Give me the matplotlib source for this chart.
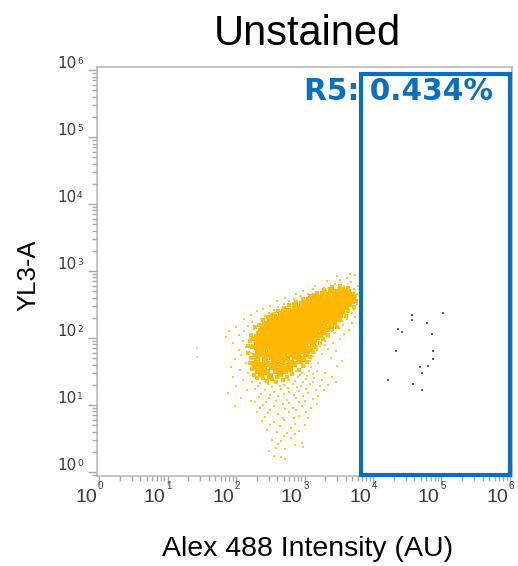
import matplotlib
matplotlib.use("Agg")
import matplotlib.pyplot as plt
from matplotlib.patches import Rectangle
from matplotlib.ticker import LogLocator, NullFormatter

# ---- data (log10 of intensity: Alexa 488 on x, YL3-A on y) ----
# dense population core
core_events = [
    (3.38, 2.71), (3.47, 2.69), (3.55, 2.72), (3.63, 2.68),
    (3.27, 2.66), (3.35, 2.64), (3.44, 2.66), (3.52, 2.63), (3.60, 2.65), (3.69, 2.64),
    (3.16, 2.61), (3.24, 2.59), (3.31, 2.61), (3.38, 2.58), (3.46, 2.60), (3.53, 2.62), (3.61, 2.59), (3.68, 2.61),
    (3.06, 2.56), (3.13, 2.54), (3.20, 2.56), (3.27, 2.55), (3.34, 2.53), (3.41, 2.56), (3.48, 2.54), (3.55, 2.56),
    (3.62, 2.53), (3.69, 2.55),
    (2.96, 2.51), (3.03, 2.49), (3.10, 2.51), (3.16, 2.48), (3.23, 2.50), (3.30, 2.51), (3.37, 2.49), (3.44, 2.51),
    (3.51, 2.48), (3.58, 2.50), (3.65, 2.51),
    (2.86, 2.46), (2.93, 2.44), (3.00, 2.46), (3.07, 2.45), (3.13, 2.43), (3.20, 2.46), (3.27, 2.44), (3.33, 2.46),
    (3.40, 2.44), (3.47, 2.45), (3.53, 2.43), (3.60, 2.46),
    (2.76, 2.41), (2.83, 2.39), (2.89, 2.41), (2.96, 2.40), (3.02, 2.38), (3.09, 2.41), (3.15, 2.39), (3.22, 2.41),
    (3.28, 2.40), (3.35, 2.38), (3.41, 2.41), (3.48, 2.39), (3.55, 2.41),
    (2.66, 2.36), (2.73, 2.34), (2.79, 2.36), (2.86, 2.35), (2.92, 2.33), (2.98, 2.36), (3.05, 2.34), (3.11, 2.36),
    (3.17, 2.35), (3.24, 2.33), (3.30, 2.36), (3.37, 2.34), (3.44, 2.36), (3.52, 2.35),
    (2.56, 2.31), (2.63, 2.29), (2.69, 2.31), (2.76, 2.30), (2.82, 2.28), (2.88, 2.31), (2.95, 2.29), (3.01, 2.31),
    (3.07, 2.30), (3.14, 2.28), (3.20, 2.31), (3.27, 2.29), (3.33, 2.31), (3.40, 2.30), (3.48, 2.29),
    (2.50, 2.26), (2.57, 2.24), (2.63, 2.26), (2.70, 2.25), (2.76, 2.23), (2.82, 2.26), (2.89, 2.24), (2.95, 2.26),
    (3.01, 2.25), (3.08, 2.23), (3.14, 2.26), (3.21, 2.24), (3.27, 2.26), (3.34, 2.25), (3.43, 2.24),
    (2.43, 2.21), (2.50, 2.19), (2.57, 2.21), (2.63, 2.20), (2.70, 2.18), (2.76, 2.21), (2.83, 2.19), (2.89, 2.21),
    (2.96, 2.20), (3.02, 2.18), (3.09, 2.21), (3.15, 2.19), (3.22, 2.21), (3.29, 2.20), (3.38, 2.19),
    (2.39, 2.16), (2.46, 2.14), (2.52, 2.16), (2.59, 2.15), (2.65, 2.13), (2.72, 2.16), (2.78, 2.14), (2.85, 2.16),
    (2.91, 2.15), (2.98, 2.13), (3.04, 2.16), (3.11, 2.14), (3.18, 2.16), (3.25, 2.15), (3.33, 2.14),
    (2.36, 2.11), (2.43, 2.09), (2.49, 2.11), (2.56, 2.10), (2.62, 2.08), (2.69, 2.11), (2.75, 2.09), (2.82, 2.11),
    (2.88, 2.10), (2.95, 2.08), (3.02, 2.11), (3.09, 2.09), (3.17, 2.11), (3.27, 2.10),
    (2.33, 2.06), (2.40, 2.04), (2.46, 2.06), (2.53, 2.05), (2.59, 2.03), (2.66, 2.06), (2.72, 2.04), (2.79, 2.06),
    (2.86, 2.05), (2.93, 2.03), (3.00, 2.06), (3.07, 2.04), (3.15, 2.06), (3.23, 2.05),
    (2.31, 2.01), (2.38, 1.99), (2.45, 2.01), (2.52, 2.00), (2.58, 1.98), (2.65, 2.01), (2.72, 1.99), (2.79, 2.01),
    (2.86, 2.00), (2.93, 1.98), (3.01, 2.01), (3.09, 1.99), (3.18, 2.01),
    (2.30, 1.96), (2.37, 1.94), (2.44, 1.96), (2.51, 1.95), (2.58, 1.93), (2.65, 1.96), (2.72, 1.94), (2.80, 1.96),
    (2.88, 1.95), (2.96, 1.93), (3.04, 1.96), (3.13, 1.94),
    (2.31, 1.91), (2.38, 1.89), (2.46, 1.91), (2.53, 1.90), (2.61, 1.88), (2.68, 1.91), (2.76, 1.89), (2.84, 1.91),
    (2.92, 1.90), (3.01, 1.88), (3.12, 1.91),
    (2.31, 1.86), (2.39, 1.84), (2.47, 1.86), (2.55, 1.85), (2.63, 1.83), (2.71, 1.86), (2.79, 1.84), (2.88, 1.86),
    (2.97, 1.85), (3.08, 1.84),
    (2.32, 1.81), (2.40, 1.79), (2.49, 1.81), (2.57, 1.80), (2.66, 1.78), (2.75, 1.81), (2.84, 1.79), (2.93, 1.81),
    (3.04, 1.80),
    (2.33, 1.76), (2.42, 1.74), (2.51, 1.76), (2.60, 1.75), (2.70, 1.73), (2.80, 1.76), (2.90, 1.74), (3.02, 1.76),
    (2.31, 1.71), (2.42, 1.69), (2.53, 1.71), (2.63, 1.70), (2.74, 1.68), (2.86, 1.71), (2.98, 1.69),
    (2.30, 1.66), (2.42, 1.64), (2.55, 1.66), (2.67, 1.65), (2.80, 1.63), (2.94, 1.66),
    (2.28, 1.61), (2.38, 1.59), (2.49, 1.61), (2.60, 1.60), (2.72, 1.58), (2.85, 1.61),
    (2.29, 1.56), (2.41, 1.54), (2.53, 1.56), (2.66, 1.55), (2.79, 1.53),
    (2.32, 1.51), (2.45, 1.49), (2.58, 1.51), (2.72, 1.50),
    (2.36, 1.46), (2.50, 1.44), (2.64, 1.46),
]

# events along the edge of the core
edge_events = [
    (2.40, 2.27), (2.47, 2.31), (2.55, 2.36), (2.62, 2.40), (2.70, 2.45), (2.78, 2.49), (2.88, 2.53), (2.98, 2.58),
    (3.08, 2.62), (3.18, 2.67), (3.28, 2.71), (3.40, 2.76), (3.52, 2.78), (3.63, 2.75), (2.52, 2.34), (2.68, 2.41),
    (2.84, 2.50), (3.00, 2.55), (3.14, 2.64), (3.30, 2.68),
    (3.74, 2.62), (3.75, 2.55), (3.72, 2.47), (3.64, 2.40), (3.60, 2.33), (3.52, 2.27), (3.47, 2.17), (3.40, 2.13),
    (3.35, 2.05), (3.27, 1.98), (3.22, 1.93), (3.17, 1.86), (3.12, 1.79), (3.08, 1.72), (3.03, 1.64), (2.98, 1.58),
    (2.92, 1.52), (2.82, 1.46), (2.75, 1.42), (3.58, 2.45), (3.50, 2.32), (3.40, 2.22), (3.28, 2.07), (3.16, 1.95),
    (2.22, 2.04), (2.20, 1.95), (2.24, 1.86), (2.18, 1.78), (2.22, 1.70), (2.20, 1.62), (2.24, 1.53), (2.26, 1.45),
    (2.30, 1.40), (2.28, 2.16), (2.34, 2.20), (2.17, 1.88), (2.25, 1.98), (2.26, 1.75),
    (2.40, 1.40), (2.52, 1.39), (2.60, 1.42), (2.68, 1.38), (2.45, 1.36), (2.58, 1.35),
]

# sparse events around the population
outer_events = [
    (3.74, 2.94), (3.62, 2.90), (3.52, 2.86), (3.68, 2.83), (3.45, 2.81), (3.78, 2.78), (3.38, 2.77), (3.58, 2.77),
    (3.73, 2.73), (3.28, 2.74), (3.12, 2.73), (3.20, 2.68), (3.05, 2.66), (2.95, 2.62), (2.85, 2.58), (2.78, 2.55),
    (2.70, 2.50), (2.62, 2.46), (2.55, 2.42), (2.48, 2.38), (2.42, 2.33), (2.36, 2.28), (3.76, 2.66), (3.74, 2.58),
    (3.77, 2.50), (3.72, 2.44), (3.69, 2.37), (3.74, 2.32), (3.62, 2.28), (3.70, 2.22), (3.56, 2.20), (3.65, 2.12),
    (3.50, 2.15), (3.58, 2.06), (3.44, 2.08), (3.36, 2.02), (3.52, 1.98), (3.30, 1.95), (3.42, 1.92), (3.22, 1.88),
    (3.34, 1.84), (3.18, 1.82), (3.46, 1.80), (3.26, 1.76), (3.12, 1.73), (3.38, 1.70), (3.08, 1.66), (3.20, 1.63),
    (3.55, 1.66), (3.48, 1.58),
    (3.33, 2.85), (3.48, 2.92), (3.66, 2.96), (3.16, 2.78), (2.98, 2.70), (2.88, 2.66), (2.72, 2.60), (2.60, 2.55),
    (2.50, 2.48), (2.40, 2.44), (2.30, 2.40), (2.22, 2.34),
    (3.58, 2.36), (3.62, 2.42), (3.66, 2.48), (3.72, 2.52), (3.70, 2.60), (3.60, 2.70), (3.50, 2.74), (3.42, 2.72),
    (3.55, 2.25), (3.47, 2.20), (3.40, 2.10), (3.30, 1.90), (3.28, 2.00), (3.15, 1.78), (3.08, 1.71),
    (2.24, 2.24), (2.18, 2.18), (2.26, 2.14), (2.12, 2.10), (2.22, 2.06), (2.05, 2.04), (2.20, 1.98), (2.10, 1.95),
    (2.24, 1.90), (1.96, 1.92), (2.15, 1.86), (2.04, 1.82), (2.22, 1.78), (1.90, 2.10), (1.86, 2.02), (2.00, 2.16),
    (2.12, 2.28), (2.08, 1.74), (2.20, 1.70), (1.98, 1.68), (2.14, 1.62), (2.24, 1.60), (1.92, 1.56), (2.06, 1.52),
    (2.18, 1.48), (1.95, 1.42), (2.10, 1.38), (2.24, 1.34), (2.00, 1.28), (2.16, 1.22), (1.88, 1.18), (2.08, 1.10),
    (2.22, 1.06), (1.98, 0.98),
    (3.00, 1.58), (3.10, 1.56), (2.88, 1.50), (2.97, 1.48), (3.06, 1.51), (3.18, 1.50), (3.30, 1.47),
    (2.78, 1.38), (2.90, 1.42), (3.02, 1.39), (3.14, 1.40), (3.26, 1.37), (3.40, 1.42),
    (2.35, 1.33), (2.47, 1.31), (2.58, 1.34), (2.70, 1.30), (2.83, 1.32), (2.95, 1.28), (3.08, 1.31), (3.22, 1.28),
    (3.35, 1.30), (3.46, 1.34), (2.28, 1.24), (2.42, 1.22), (2.55, 1.20), (2.66, 1.24), (2.78, 1.19), (2.92, 1.21),
    (3.05, 1.18), (3.17, 1.22),
    (2.94, 1.45), (3.04, 1.44), (3.12, 1.46), (2.86, 1.36), (2.98, 1.34),
    (3.12, 1.34), (2.32, 1.28), (2.52, 1.27), (2.64, 1.29), (2.76, 1.25), (2.89, 1.27), (3.02, 1.24), (3.28, 1.22),
    (2.36, 1.17), (2.50, 1.15), (2.70, 1.16), (2.85, 1.15), (2.98, 1.14), (3.20, 1.14), (2.27, 1.05), (2.44, 1.05),
    (2.58, 1.06), (2.78, 1.03), (2.92, 1.04), (3.18, 1.02),
    (2.33, 1.12), (2.48, 1.10), (2.62, 1.13), (2.75, 1.08), (2.88, 1.11), (3.00, 1.06), (3.12, 1.09), (2.40, 1.00),
    (2.55, 0.98), (2.68, 1.02), (2.83, 0.96), (2.96, 0.99), (3.10, 0.95), (2.30, 0.90), (2.46, 0.88), (2.62, 0.86),
    (2.78, 0.89), (2.92, 0.84), (3.05, 0.80), (2.38, 0.76), (2.55, 0.74), (2.70, 0.77), (2.86, 0.72), (3.00, 0.70),
    (2.35, 0.95), (2.50, 0.93), (2.72, 0.94), (2.88, 0.92), (3.02, 0.90), (2.42, 0.82), (2.68, 0.81), (2.84, 0.80),
    (2.50, 0.70), (2.64, 0.68), (2.80, 0.66), (2.70, 0.54), (2.86, 0.56), (2.62, 0.42), (2.86, 0.40), (2.48, 0.32),
    (2.45, 0.62), (2.60, 0.60), (2.75, 0.58), (2.92, 0.61), (2.52, 0.48), (2.66, 0.46), (2.80, 0.50), (2.96, 0.44),
    (2.58, 0.36), (2.72, 0.34), (2.98, 0.37), (2.55, 0.24), (2.66, 0.22), (2.72, 0.20),
]

# events falling in gate R5
gated_events = [
    (4.57, 2.34), (4.57, 2.27), (5.02, 2.37), (4.36, 2.13), (4.43, 2.09), (4.79, 2.22), (4.86, 2.06), (4.34, 1.80),
    (4.88, 1.80), (4.88, 1.68), (4.69, 1.56), (4.80, 1.58), (4.71, 1.48), (4.22, 1.37), (4.59, 1.32), (4.71, 1.22),
]

# faint low events
debris_events = [(1.43, 1.85), (1.43, 1.72)]

# gate R5 bounds (AU) and its statistic
gate_x = (6600.0, 1.0e6)
gate_y = (0.9, 8.7e5)
gate_name = "R5"
gate_percent = 0.434

decades = list(range(0, 7))


def unlog(events):
    return [10 ** x for x, _ in events], [10 ** y for _, y in events]


W, H = 518, 566
fig = plt.figure(figsize=(W / 100, H / 100), dpi=100)
ax = fig.add_axes([97 / W, 1 - 476 / H, (512 - 97) / W, (476 - 67) / H])
ax.set_xscale("log")
ax.set_yscale("log")
ax.set_xlim(10 ** -0.03, 10 ** 6.03)
ax.set_ylim(10 ** -0.06, 10 ** 6.045)

cx, cy = unlog(core_events)
ex, ey = unlog(edge_events)
ox, oy = unlog(outer_events)
gx, gy = unlog(gated_events)
dx, dy = unlog(debris_events)
ax.scatter(ox, oy, s=4.5, marker="s", color="#FFC522", alpha=0.9, linewidths=0, zorder=2)
ax.scatter(ex, ey, s=7, marker="s", color="#FFBE10", linewidths=0, zorder=2)
ax.scatter(cx, cy, s=13, marker="s", color="#FFB800", linewidths=0, zorder=3)
ax.scatter(gx, gy, s=2.6, marker="s", color="#596070", linewidths=0, zorder=3)
ax.scatter(dx, dy, s=2.6, marker="s", color="#d4d4d4", linewidths=0, zorder=2)

# gate rectangle and label
blue = "#0B6FC0"
ax.add_patch(Rectangle((gate_x[0], gate_y[0]), gate_x[1] - gate_x[0], gate_y[1] - gate_y[0],
                       fill=False, edgecolor=blue, linewidth=3.0, zorder=4, clip_on=False))
ax.annotate(f"{gate_name}: {gate_percent:.3f}%", xy=(gate_x[1], gate_y[1]), xycoords="data",
            xytext=(-17, -26), textcoords="offset pixels", ha="right", va="baseline",
            fontsize=21.3, fontweight="bold", color=blue, family="DejaVu Sans", zorder=5)

# frame and ticks
for sp in ax.spines.values():
    sp.set_color("#b4b4b4")
    sp.set_linewidth(1.1)
ax.xaxis.set_major_locator(LogLocator(base=10, numticks=10))
ax.yaxis.set_major_locator(LogLocator(base=10, numticks=10))
ax.xaxis.set_minor_locator(LogLocator(base=10, subs=range(2, 10), numticks=20))
ax.yaxis.set_minor_locator(LogLocator(base=10, subs=range(2, 10), numticks=20))
ax.xaxis.set_minor_formatter(NullFormatter())
ax.yaxis.set_minor_formatter(NullFormatter())
ax.tick_params(which="major", direction="out", length=6.5, width=1, color="#a8a8a8",
               labelbottom=False, labelleft=False)
ax.tick_params(which="minor", direction="out", length=3.5, width=1, color="#a8a8a8")

label_color = "#3a3a3a"
ytr = ax.get_yaxis_transform()
xtr = ax.get_xaxis_transform()
for k in decades:
    ax.annotate("10", xy=(0, 10 ** k), xycoords=ytr, xytext=(-20, 2), textcoords="offset pixels",
                ha="right", va="baseline", fontsize=11, color=label_color, family="DejaVu Sans")
    ax.annotate(str(k), xy=(0, 10 ** k), xycoords=ytr, xytext=(-20, 13), textcoords="offset pixels",
                ha="left", va="top", fontsize=6.5, color=label_color, family="DejaVu Sans")
    ax.annotate("10", xy=(10 ** k, 0), xycoords=xtr, xytext=(-2, -13), textcoords="offset pixels",
                ha="right", va="top", fontsize=14, color=label_color,
                family=["Liberation Sans Narrow", "Liberation Sans"])
    ax.annotate(str(k), xy=(10 ** k, 0), xycoords=xtr, xytext=(-1, -5), textcoords="offset pixels",
                ha="left", va="top", fontsize=7, color=label_color, family="Liberation Sans")

fig.text(307 / W, 1 - 45 / H, "Unstained", ha="center", va="baseline", fontsize=30,
         family="Liberation Sans", color="black")
fig.text(307.5 / W, 1 - 556 / H, "Alex 488 Intensity (AU)", ha="center", va="baseline",
         fontsize=20.5, family="Liberation Sans", color="black")
fig.text(28 / W, 1 - 275 / H, "YL3-A", ha="center", va="center", rotation=90,
         fontsize=18.5, family="Liberation Sans", color="black")

fig.savefig("out.png", dpi=100)
